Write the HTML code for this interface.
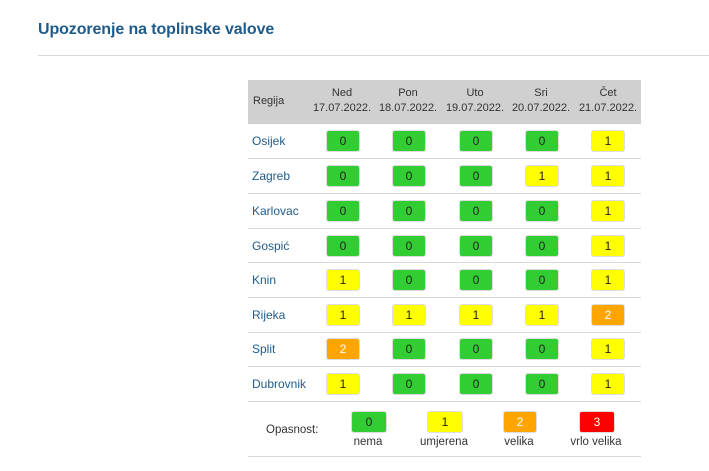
<!DOCTYPE html>
<html><head><meta charset="utf-8"><style>
body{margin:0;width:709px;height:471px;background:#fff;position:relative;font-family:"Liberation Sans",sans-serif;overflow:hidden}
.a{position:absolute}
.t{left:38px;top:21px;font-size:16px;color:#1f5b8a;font-weight:bold;letter-spacing:-0.1px}
.hr{left:38px;top:55px;width:671px;height:1px;background:#d5d8dc}
.hd{left:248px;top:80px;width:393px;height:44px;background:#d0d0d0}
.h{font-size:11px;color:#333;text-align:center;width:70px;line-height:15px}
.rl{left:248px;width:393px;height:1px;background:#d5d8dc}
.n{left:252px;font-size:12px;color:#1f5b8a}
.b{width:32px;height:20px;border:1px solid #ddd;border-radius:3px;text-align:center;line-height:20px;font-size:12px;color:#222}
.g{background:#32cd32}.y{background:#ffff00}.o{background:#ffa500;color:#fff}.r{background:#ff0000;color:#fff}
.l{font-size:11.5px;color:#333;text-align:center;width:80px}
</style></head><body>
<div class="a t">Upozorenje na toplinske valove</div>
<div class="a hr"></div>
<div class="a hd"></div>
<div class="a h" style="left:248px;top:94px;text-align:left;padding-left:5px">Regija</div>
<div class="a h" style="left:307px;top:86px">Ned<br>17.07.2022.</div>
<div class="a h" style="left:373px;top:86px">Pon<br>18.07.2022.</div>
<div class="a h" style="left:440px;top:86px">Uto<br>19.07.2022.</div>
<div class="a h" style="left:506px;top:86px">Sri<br>20.07.2022.</div>
<div class="a h" style="left:573px;top:86px">Čet<br>21.07.2022.</div>

<div class="a n" style="top:134px">Osijek</div>
<div class="a b g" style="left:326px;top:130px">0</div><div class="a b g" style="left:392px;top:130px">0</div><div class="a b g" style="left:459px;top:130px">0</div><div class="a b g" style="left:525px;top:130px">0</div><div class="a b y" style="left:591px;top:130px">1</div>
<div class="a rl" style="top:158px"></div>

<div class="a n" style="top:169px">Zagreb</div>
<div class="a b g" style="left:326px;top:165px">0</div><div class="a b g" style="left:392px;top:165px">0</div><div class="a b g" style="left:459px;top:165px">0</div><div class="a b y" style="left:525px;top:165px">1</div><div class="a b y" style="left:591px;top:165px">1</div>
<div class="a rl" style="top:193px"></div>

<div class="a n" style="top:204px">Karlovac</div>
<div class="a b g" style="left:326px;top:200px">0</div><div class="a b g" style="left:392px;top:200px">0</div><div class="a b g" style="left:459px;top:200px">0</div><div class="a b g" style="left:525px;top:200px">0</div><div class="a b y" style="left:591px;top:200px">1</div>
<div class="a rl" style="top:228px"></div>

<div class="a n" style="top:239px">Gospić</div>
<div class="a b g" style="left:326px;top:235px">0</div><div class="a b g" style="left:392px;top:235px">0</div><div class="a b g" style="left:459px;top:235px">0</div><div class="a b g" style="left:525px;top:235px">0</div><div class="a b y" style="left:591px;top:235px">1</div>
<div class="a rl" style="top:262px"></div>

<div class="a n" style="top:273px">Knin</div>
<div class="a b y" style="left:326px;top:269px">1</div><div class="a b g" style="left:392px;top:269px">0</div><div class="a b g" style="left:459px;top:269px">0</div><div class="a b g" style="left:525px;top:269px">0</div><div class="a b y" style="left:591px;top:269px">1</div>
<div class="a rl" style="top:297px"></div>

<div class="a n" style="top:308px">Rijeka</div>
<div class="a b y" style="left:326px;top:304px">1</div><div class="a b y" style="left:392px;top:304px">1</div><div class="a b y" style="left:459px;top:304px">1</div><div class="a b y" style="left:525px;top:304px">1</div><div class="a b o" style="left:591px;top:304px">2</div>
<div class="a rl" style="top:332px"></div>

<div class="a n" style="top:342px">Split</div>
<div class="a b o" style="left:326px;top:338px">2</div><div class="a b g" style="left:392px;top:338px">0</div><div class="a b g" style="left:459px;top:338px">0</div><div class="a b g" style="left:525px;top:338px">0</div><div class="a b y" style="left:591px;top:338px">1</div>
<div class="a rl" style="top:366px"></div>

<div class="a n" style="top:377px">Dubrovnik</div>
<div class="a b y" style="left:326px;top:373px">1</div><div class="a b g" style="left:392px;top:373px">0</div><div class="a b g" style="left:459px;top:373px">0</div><div class="a b g" style="left:525px;top:373px">0</div><div class="a b y" style="left:591px;top:373px">1</div>
<div class="a rl" style="top:401px"></div>

<div class="a" style="left:266px;top:424px;font-size:11.5px;color:#333">Opasnost:</div>
<div class="a b g" style="left:351px;top:411px;width:34px">0</div>
<div class="a b y" style="left:427px;top:411px;width:34px">1</div>
<div class="a b o" style="left:503px;top:411px;width:32px">2</div>
<div class="a b r" style="left:579px;top:411px;width:34px">3</div>
<div class="a l" style="left:328px;top:436px">nema</div>
<div class="a l" style="left:404px;top:436px">umjerena</div>
<div class="a l" style="left:479px;top:436px">velika</div>
<div class="a l" style="left:556px;top:436px">vrlo velika</div>
<div class="a rl" style="top:456px"></div>
</body></html>
